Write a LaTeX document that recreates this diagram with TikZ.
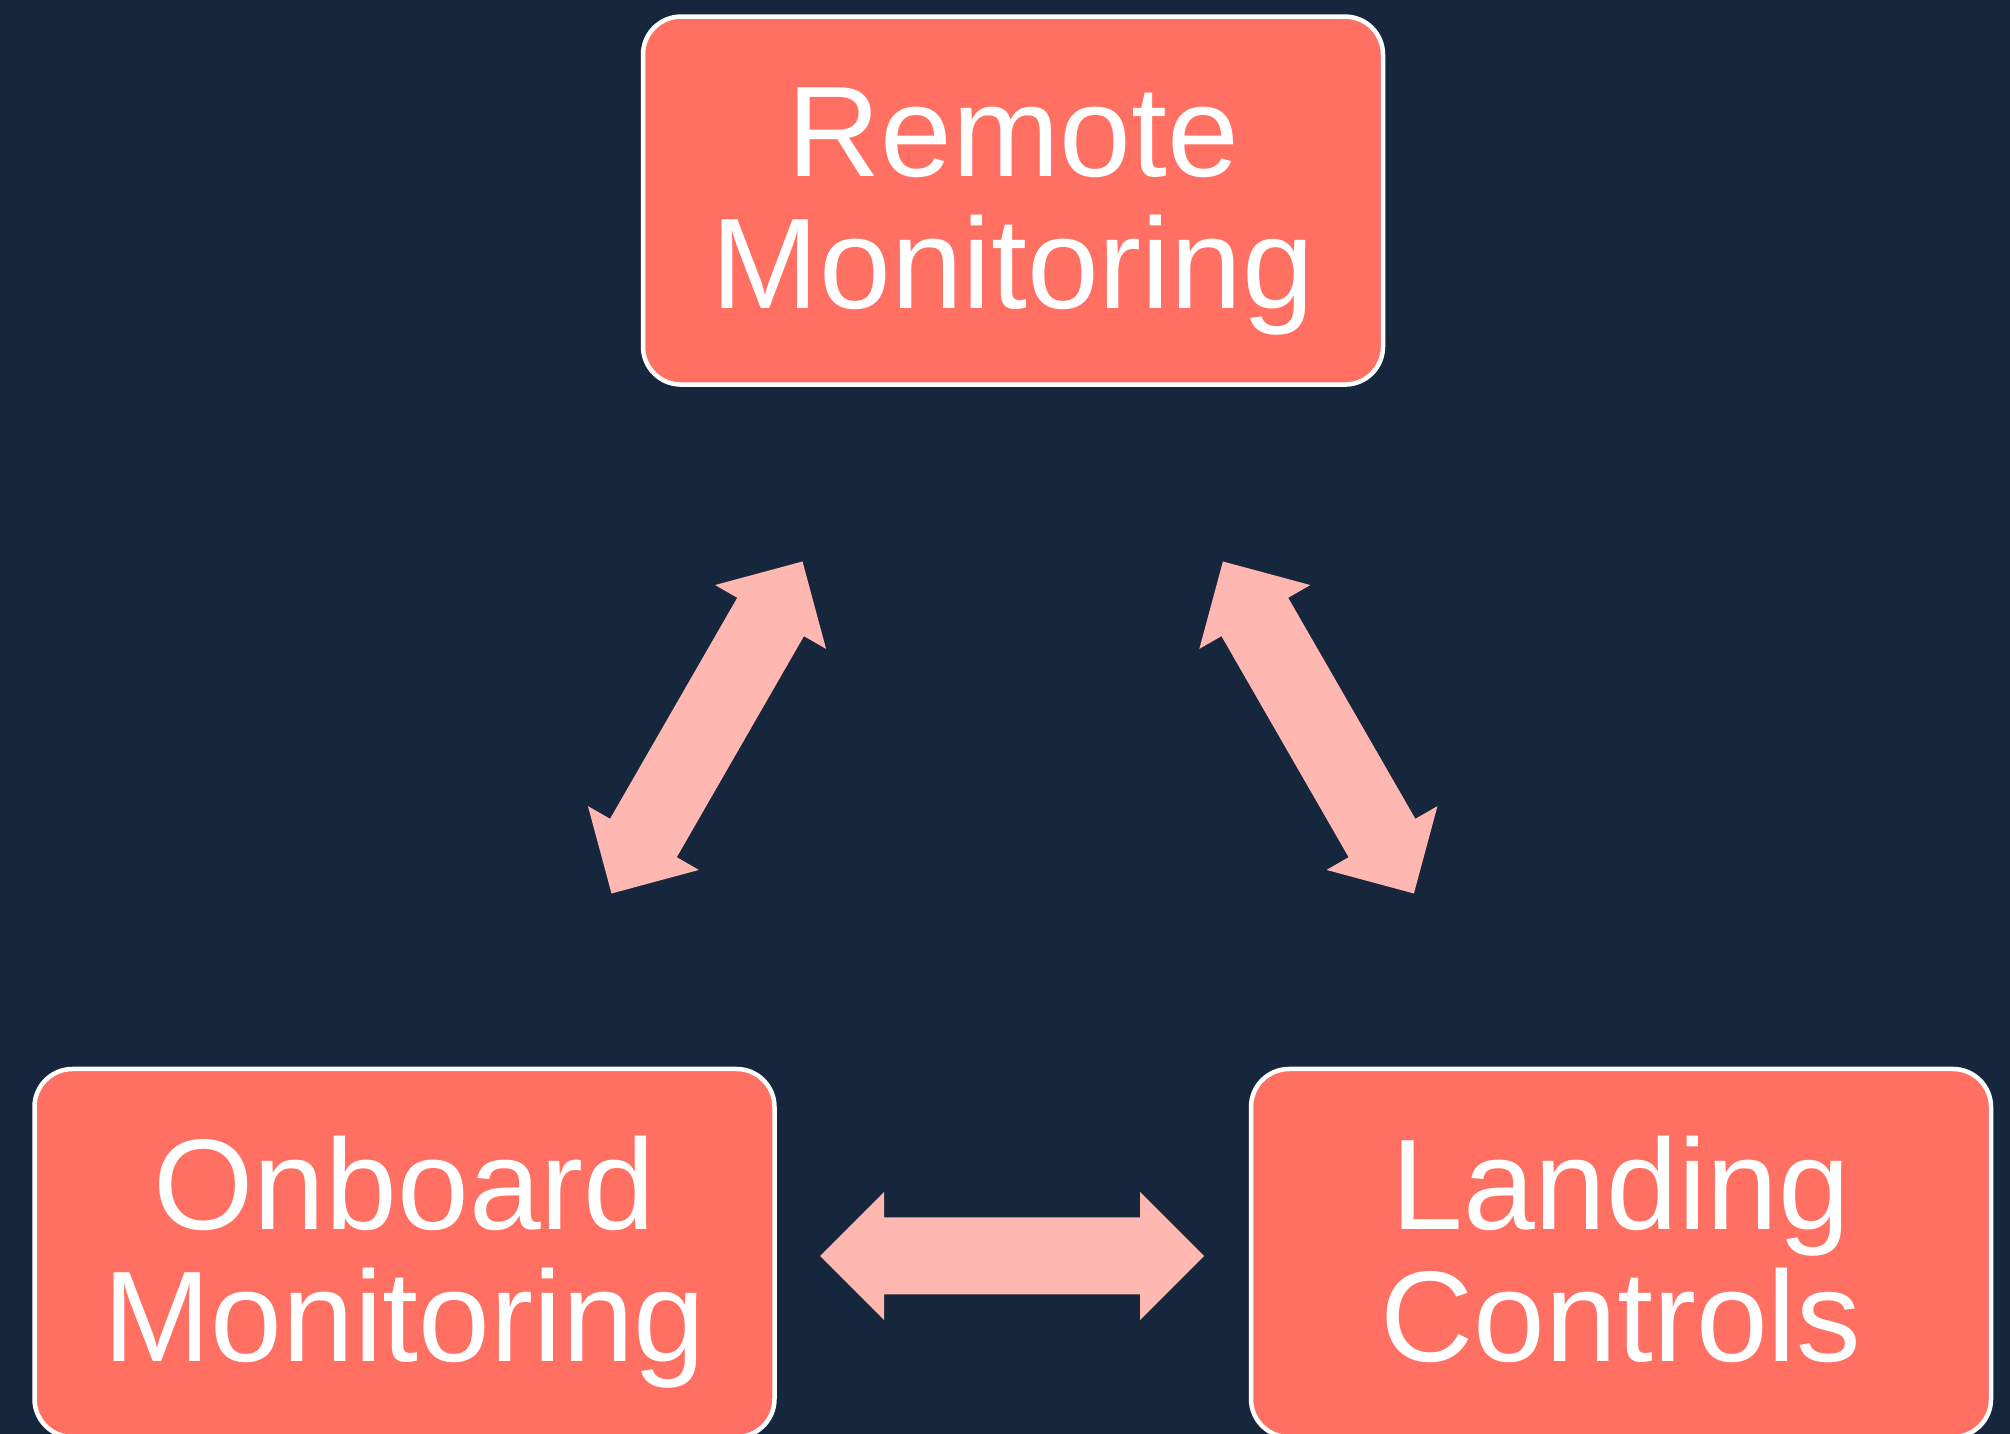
\documentclass[tikz,border=0pt]{standalone}
\usepackage{fontspec}
\setmainfont{Liberation Sans}
\usetikzlibrary{calc}

\definecolor{bgnavy}{RGB}{22,39,61}
\definecolor{boxcoral}{RGB}{255,112,98}
\definecolor{arrowpink}{RGB}{255,183,177}

\tikzset{
  stage/.style={rectangle, rounded corners=38pt, draw=white, line width=4.5pt,
    fill=boxcoral, minimum width=740pt, minimum height=368pt, inner sep=0pt,
    text=white, align=center, font=\fontsize{129}{132}\selectfont}
}

% invisible struts fixing the first and last line of a label
\newcommand{\tallstrut}{\rule{0pt}{114.8pt}}
\newcommand{\deepstrut}{\rule[-30pt]{0pt}{30pt}}

% block double arrow between two named tips
\newcommand{\blockarrow}[2]{%
  \fill[arrowpink]
    (#1)
    -- ($($(#1)!64pt!(#2)$)!64pt!90:(#2)$)
    -- ($($(#1)!64pt!(#2)$)!38.5pt!90:(#2)$)
    -- ($($(#2)!64pt!(#1)$)!38.5pt!-90:(#1)$)
    -- ($($(#2)!64pt!(#1)$)!64pt!-90:(#1)$)
    -- (#2)
    -- ($($(#2)!64pt!(#1)$)!64pt!90:(#1)$)
    -- ($($(#2)!64pt!(#1)$)!38.5pt!90:(#1)$)
    -- ($($(#1)!64pt!(#2)$)!38.5pt!-90:(#2)$)
    -- ($($(#1)!64pt!(#2)$)!64pt!-90:(#2)$)
    -- cycle;}

\begin{document}
\begin{tikzpicture}[x=1pt,y=1pt]
  \fill[bgnavy] (0,0) rectangle (2010,1434);
  \useasboundingbox (0,0) rectangle (2010,1434);
  \clip (0,0) rectangle (2010,1434);

  \node[stage] (remote)  at (1013,1233.4) {\tallstrut Remote\\Monitoring\deepstrut};
  \node[stage] (onboard) at (404.5,181)   {\tallstrut Onboard\\Monitoring\deepstrut};
  \node[stage] (landing) at (1621,181)    {\tallstrut Landing\\Controls\deepstrut};

  % arrow tips
  \coordinate (ol) at (611.5,540.5);
  \coordinate (ou) at (802.5,872.5);
  \coordinate (lu) at (1222.9,872.5);
  \coordinate (ll) at (1413.9,540.5);
  \coordinate (hl) at (820,178);
  \coordinate (hr) at (1204,178);

  \blockarrow{ol}{ou}
  \blockarrow{lu}{ll}
  \blockarrow{hl}{hr}
\end{tikzpicture}
\end{document}
